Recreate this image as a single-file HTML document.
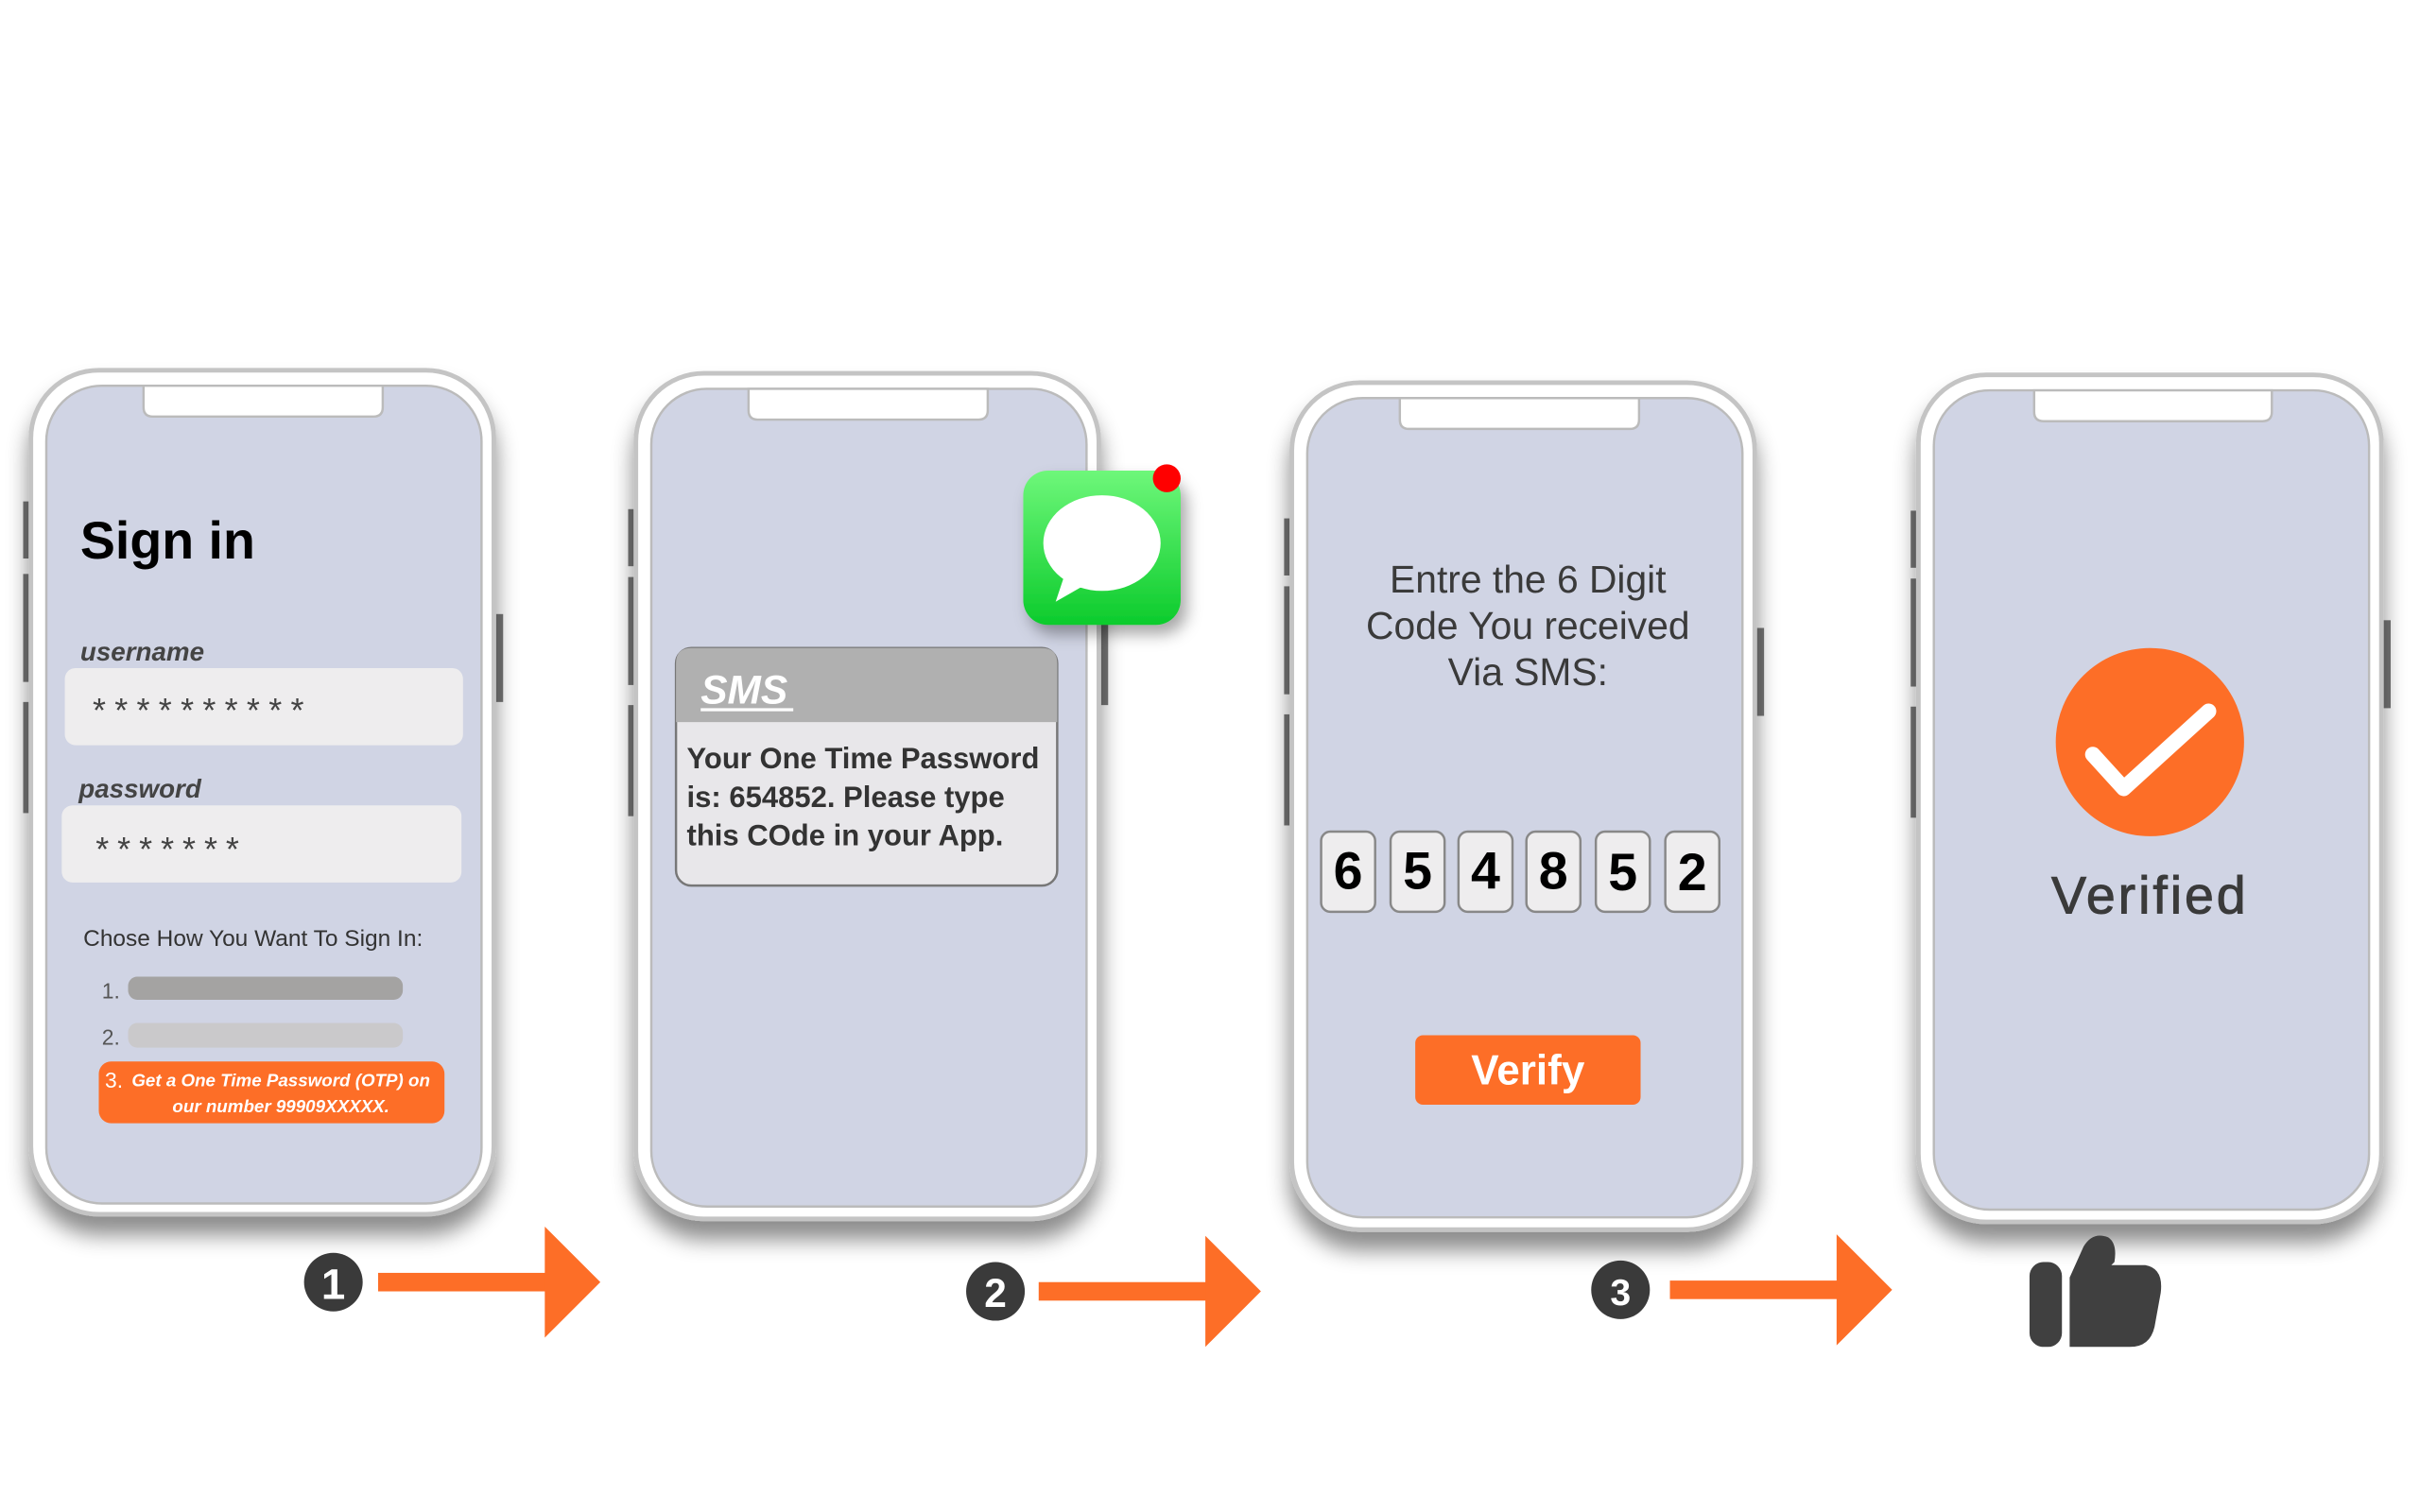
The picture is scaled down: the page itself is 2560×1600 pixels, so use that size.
<!DOCTYPE html>
<html><head><meta charset="utf-8"><style>
html,body{margin:0;padding:0;background:#fff;}
svg{display:block;}
text{font-family:"Liberation Sans",sans-serif;}
</style></head><body>
<svg width="2560" height="1600" viewBox="0 0 1568 980" xmlns="http://www.w3.org/2000/svg">
<defs>
<filter id="sh" x="-20%" y="-10%" width="140%" height="130%">
<feDropShadow dx="0" dy="12" stdDeviation="7" flood-color="#000" flood-opacity="0.45"/>
</filter>
<filter id="sh2" x="-30%" y="-30%" width="160%" height="160%">
<feDropShadow dx="4" dy="6" stdDeviation="5" flood-color="#000" flood-opacity="0.35"/>
</filter>
<linearGradient id="grn" x1="0" y1="0" x2="0" y2="1"><stop offset="0" stop-color="#6ef77a"/><stop offset="1" stop-color="#0ccb2c"/></linearGradient>
</defs>

<!-- Phone 1 -->
<g>
<rect x="15" y="325" width="5" height="37" fill="#777"/><rect x="15" y="372" width="5" height="70" fill="#777"/><rect x="15" y="455" width="5" height="72" fill="#777"/><rect x="320" y="398" width="6" height="57" fill="#777"/>
<rect x="20" y="240" width="300" height="547" rx="44" fill="#fff" stroke="#c4c4c4" stroke-width="3" filter="url(#sh)"/>
<rect x="30" y="250" width="282" height="530" rx="36" fill="#d0d4e4" stroke="#bbb" stroke-width="1.5"/>
<path d="M93 250 V264 Q93 270 99 270 H242 Q248 270 248 264 V250 Z" fill="#fff" stroke="#bbb" stroke-width="1.5"/>
<text x="52" y="362" font-size="34" font-weight="bold" fill="#000">Sign in</text>
<text x="52" y="428" font-size="17" font-weight="bold" font-style="italic" fill="#444">username</text>
<rect x="42" y="433" width="258" height="50" rx="7" fill="#eeedee"/>
<text x="60" y="468" font-size="22" fill="#444" letter-spacing="5.7">**********</text>
<text x="51" y="517" font-size="17" font-weight="bold" font-style="italic" fill="#444">password</text>
<rect x="40" y="522" width="259" height="50" rx="7" fill="#eeedee"/>
<text x="62" y="558" font-size="22" fill="#444" letter-spacing="5.5">*******</text>
<text x="54" y="613" font-size="15" fill="#333">Chose How You Want To Sign In:</text>
<text x="66" y="647" font-size="14" fill="#555">1.</text>
<rect x="83" y="633" width="178" height="15" rx="6" fill="#a4a3a2"/>
<text x="66" y="677" font-size="14" fill="#555">2.</text>
<rect x="83" y="663" width="178" height="16" rx="6" fill="#cac9cb"/>
<rect x="64" y="688" width="224" height="40" rx="8" fill="#fd6e27"/>
<text x="68" y="705" font-size="14" fill="#fff">3.</text>
<text x="182" y="704" font-size="11.5" font-weight="bold" font-style="italic" fill="#fff" text-anchor="middle">Get a One Time Password (OTP) on</text>
<text x="182" y="721" font-size="11.5" font-weight="bold" font-style="italic" fill="#fff" text-anchor="middle">our number 99909XXXXX.</text>
</g>

<!-- Phone 2 -->
<g>
<rect x="407" y="330" width="5" height="37" fill="#777"/><rect x="407" y="374" width="5" height="70" fill="#777"/><rect x="407" y="457" width="5" height="72" fill="#777"/><rect x="712" y="400" width="6" height="57" fill="#777"/>
<rect x="412" y="242" width="300" height="548" rx="44" fill="#fff" stroke="#c4c4c4" stroke-width="3" filter="url(#sh)"/>
<rect x="422" y="252" width="282" height="530" rx="36" fill="#d0d4e4" stroke="#bbb" stroke-width="1.5"/>
<path d="M485 252 V266 Q485 272 491 272 H634 Q640 272 640 266 V252 Z" fill="#fff" stroke="#bbb" stroke-width="1.5"/>
<rect x="438" y="420" width="247" height="154" rx="10" fill="#e8e7ea" stroke="#777" stroke-width="1.5"/>
<path d="M438 468 V430 Q438 420 448 420 H675 Q685 420 685 430 V468 Z" fill="#b0b0b0"/>
<text x="454" y="456" font-size="26" font-weight="bold" font-style="italic" fill="#fff">SMS</text>
<rect x="454" y="459" width="60" height="2" fill="#fff"/>
<text x="445" y="498" font-size="19" font-weight="bold" fill="#333">Your One Time Password</text>
<text x="445" y="523" font-size="19" font-weight="bold" fill="#333">is: 654852. Please type</text>
<text x="445" y="548" font-size="19" font-weight="bold" fill="#333">this COde in your App.</text>
<rect x="663" y="305" width="102" height="100" rx="16" fill="url(#grn)" filter="url(#sh2)"/>
<ellipse cx="714" cy="352" rx="38" ry="31" fill="#fff"/>
<path d="M690 372 L684 390 L705 378 Z" fill="#fff"/>
<circle cx="756" cy="310" r="9" fill="#f00"/>
</g>

<!-- Phone 3 -->
<g>
<rect x="832" y="336" width="5" height="37" fill="#777"/><rect x="832" y="380" width="5" height="70" fill="#777"/><rect x="832" y="463" width="5" height="72" fill="#777"/><rect x="1137" y="407" width="6" height="57" fill="#777"/>
<rect x="837" y="248" width="300" height="549" rx="44" fill="#fff" stroke="#c4c4c4" stroke-width="3" filter="url(#sh)"/>
<rect x="847" y="258" width="282" height="531" rx="36" fill="#d0d4e4" stroke="#bbb" stroke-width="1.5"/>
<path d="M907 258 V272 Q907 278 913 278 H1056 Q1062 278 1062 272 V258 Z" fill="#fff" stroke="#bbb" stroke-width="1.5"/>
<g font-size="25" fill="#3a3a3a" text-anchor="middle">
<text x="990" y="384">Entre the 6 Digit</text>
<text x="990" y="414">Code You received</text>
<text x="990" y="444">Via SMS:</text>
</g>
<g stroke="#888" stroke-width="1.5" fill="#eeedee">
<rect x="856" y="539" width="35" height="52" rx="6"/><rect x="901" y="539" width="35" height="52" rx="6"/><rect x="945" y="539" width="35" height="52" rx="6"/><rect x="989" y="539" width="35" height="52" rx="6"/><rect x="1034" y="539" width="35" height="52" rx="6"/><rect x="1079" y="539" width="35" height="52" rx="6"/>
</g>
<g font-size="34" font-weight="bold" fill="#000" text-anchor="middle">
<text x="873.5" y="576">6</text><text x="918.5" y="576">5</text><text x="962.5" y="576">4</text><text x="1006.5" y="576">8</text><text x="1051.5" y="577">5</text><text x="1096.5" y="577">2</text>
</g>
<rect x="917" y="671" width="146" height="45" rx="5" fill="#fd6e27"/>
<text x="990" y="703" font-size="27" font-weight="bold" fill="#fff" text-anchor="middle">Verify</text>
</g>

<!-- Phone 4 -->
<g>
<rect x="1238" y="331" width="5" height="37" fill="#777"/><rect x="1238" y="375" width="5" height="70" fill="#777"/><rect x="1238" y="458" width="5" height="72" fill="#777"/><rect x="1543" y="402" width="6" height="57" fill="#777"/>
<rect x="1243" y="243" width="300" height="549" rx="44" fill="#fff" stroke="#c4c4c4" stroke-width="3" filter="url(#sh)"/>
<rect x="1253" y="253" width="282" height="531" rx="36" fill="#d0d4e4" stroke="#bbb" stroke-width="1.5"/>
<path d="M1318 253 V267 Q1318 273 1324 273 H1466 Q1472 273 1472 267 V253 Z" fill="#fff" stroke="#bbb" stroke-width="1.5"/>
<circle cx="1393" cy="481" r="61" fill="#fd6e27"/>
<path d="M1356 489 L1376 511 L1431 461" fill="none" stroke="#fff" stroke-width="10" stroke-linecap="round" stroke-linejoin="round"/>
<text x="1393" y="592" font-size="34" fill="#3a3a3a" stroke="#3a3a3a" stroke-width="0.6" text-anchor="middle" letter-spacing="1.8">Verified</text>
</g>

<!-- Arrows -->
<g fill="#fd6e27">
<rect x="245" y="825" width="110" height="12"/><path d="M353 795 L389 831 L353 867 Z"/>
<rect x="673" y="831" width="110" height="12"/><path d="M781 801 L817 837 L781 873 Z"/>
<rect x="1082" y="830" width="110" height="12"/><path d="M1190 800 L1226 836 L1190 872 Z"/>
</g>
<g>
<circle cx="216" cy="831" r="19" fill="#3a3a3a"/><text x="216" y="842" font-size="28" font-weight="bold" fill="#fff" text-anchor="middle">1</text>
<circle cx="645" cy="837" r="19" fill="#3a3a3a"/><text x="645" y="847" font-size="26" font-weight="bold" fill="#fff" text-anchor="middle">2</text>
<circle cx="1050" cy="836" r="19" fill="#3a3a3a"/><text x="1050" y="846" font-size="24" font-weight="bold" fill="#fff" text-anchor="middle">3</text>
</g>
<!-- Thumbs up -->
<g fill="#404040">
<rect x="1315" y="818" width="21" height="55" rx="9"/>
<path d="M1341 873 V828 L1350 808 Q1356 798 1366 802 Q1372 806 1370 818 L1368 820 H1390 Q1402 822 1400 838 L1396 860 Q1393 873 1380 873 Z"/>
</g>
</svg>
</body></html>
